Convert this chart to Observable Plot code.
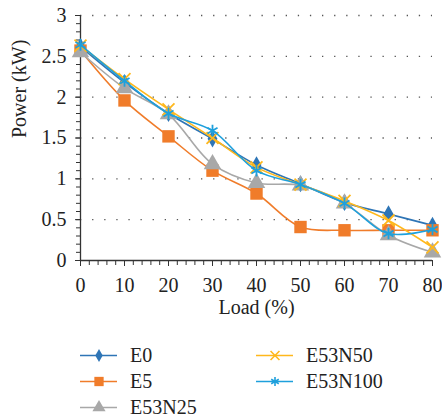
<!DOCTYPE html>
<html>
<head>
<meta charset="utf-8">
<script src="https://cdn.jsdelivr.net/npm/d3@7"></script>
<script src="https://cdn.jsdelivr.net/npm/@observablehq/plot@0.6"></script>
<style>
  html, body { margin: 0; padding: 0; background: #fff; }
  #wrap { width: 442px; height: 419px; position: relative; font-family: "Liberation Serif", "Times New Roman", "DejaVu Serif", serif; }
  #legend { position: absolute; left: 80px; top: 342px; display: grid; grid-template-columns: 176px 170px; grid-auto-rows: 26px; font-size: 20px; color: #222; font-family: "Liberation Serif", "Times New Roman", serif; }
  .item { display: flex; align-items: center; }
  .item svg { margin-right: 13px; }
</style>
</head>
<body>
<div id="wrap"><div id="chart"></div><div id="legend"></div></div>
<script>
const loads = [0, 10, 20, 30, 40, 50, 60, 70, 80];
const seriesNames = ["E0", "E5", "E53N25", "E53N50", "E53N100"];
const E0      = [2.62, 2.18, 1.80, 1.49, 1.17, 0.94, 0.71, 0.57, 0.43];
const E5      = [2.57, 1.96, 1.52, 1.10, 0.82, 0.41, 0.37, 0.37, 0.37];
const E53N25  = [2.55, 2.11, 1.79, 1.18, 0.95, 0.92, 0.70, 0.31, 0.10];
const E53N50  = [2.63, 2.22, 1.85, 1.50, 1.14, 0.93, 0.73, 0.49, 0.16];
const E53N100 = [2.64, 2.20, 1.80, 1.59, 1.10, 0.93, 0.70, 0.33, 0.38];
const yTicks = [0, 0.5, 1, 1.5, 2, 2.5, 3];
const xTicks = [0, 10, 20, 30, 40, 50, 60, 70, 80];

const FONT = '"Liberation Serif", "Times New Roman", "DejaVu Serif", serif';
const colors  = ["#2E75B6", "#F07C2A", "#A8A8A8", "#FFB81C", "#1EA0DC"];
const symbols = ["diamond", "square", "triangle", "times", "asterisk"];
const sizes   = [5.2, 7, 6.5, 5.5, 5.5];
const filled  = [true, true, true, false, false];

const valuesBySeries = [E0, E5, E53N25, E53N50, E53N100];
const rows = [];
seriesNames.forEach((s, i) => loads.forEach((x, j) => rows.push({series: s, idx: i, load: x, power: valuesBySeries[i][j]})));

const marks = [
  Plot.ruleY(yTicks.filter(d => d > 0), {stroke: "#555", strokeWidth: 1.3, strokeDasharray: "1.3,10.8"}),
  Plot.axisY({ticks: d3.range(0, 3.001, 0.1), tickSize: 4, tickFormat: () => "", stroke: "#333", label: null}),
  Plot.axisY({ticks: yTicks, tickSize: 5, tickPadding: 9, tickFormat: d => String(d), fontSize: 20, fontFamily: FONT, stroke: "#333", fill: "#222", label: null}),
  Plot.axisX({ticks: d3.range(0, 81, 2), tickSize: 5, tickFormat: () => "", stroke: "#333", label: null}),
  Plot.axisX({ticks: xTicks, tickSize: 6, tickPadding: 11, tickFormat: d => String(d), fontSize: 20, fontFamily: FONT, stroke: "#333", fill: "#222", label: null}),
  Plot.ruleX([0], {stroke: "#333", strokeWidth: 1.3}),
  Plot.ruleY([0], {stroke: "#333", strokeWidth: 1.3}),
];
seriesNames.forEach((s, i) => {
  const data = rows.filter(r => r.idx === i);
  marks.push(Plot.line(data, {x: "load", y: "power", stroke: colors[i], strokeWidth: 1.6, curve: "catmull-rom"}));
  marks.push(Plot.dot(data, {x: "load", y: "power", symbol: () => symbols[i], r: sizes[i],
    fill: filled[i] ? colors[i] : "none", stroke: colors[i], strokeWidth: filled[i] ? 0 : 1.8}));
});
marks.push(Plot.text(["Power (kW)"], {frameAnchor: "left", dx: -61, rotate: -90, fontSize: 20, fontFamily: FONT, fill: "#222", text: d => d}));
marks.push(Plot.text(["Load (%)"], {frameAnchor: "bottom", dy: 53, fontSize: 20, fontFamily: FONT, fill: "#222", text: d => d}));

const chart = Plot.plot({
  width: 442, height: 330,
  marginLeft: 80, marginRight: 10, marginTop: 15, marginBottom: 70,
  style: {fontFamily: FONT, fontSize: "20px", background: "#fff", overflow: "visible"},
  x: {domain: [0, 80], label: null},
  y: {domain: [0, 3], label: null},
  marks
});
document.getElementById("chart").appendChild(chart);

const legend = document.getElementById("legend");
const order = [0, 3, 1, 4, 2];
order.forEach(i => {
  const div = document.createElement("div");
  div.className = "item";
  const sw = Plot.plot({
    width: 37, height: 16, margin: 0,
    x: {domain: [0, 1], axis: null}, y: {domain: [0, 1], axis: null},
    style: {background: "transparent", overflow: "visible"},
    marks: [
      Plot.ruleY([0.5], {x1: 0, x2: 1, stroke: colors[i], strokeWidth: 1.6}),
      Plot.dot([{x: 0.5, y: 0.5}], {x: "x", y: "y", symbol: () => symbols[i], r: sizes[i] * 0.75,
        fill: filled[i] ? colors[i] : "none", stroke: colors[i], strokeWidth: filled[i] ? 0 : 1.6})
    ]
  });
  div.appendChild(sw);
  const t = document.createElement("span");
  t.textContent = seriesNames[i];
  div.appendChild(t);
  legend.appendChild(div);
});
</script>
</body>
</html>
